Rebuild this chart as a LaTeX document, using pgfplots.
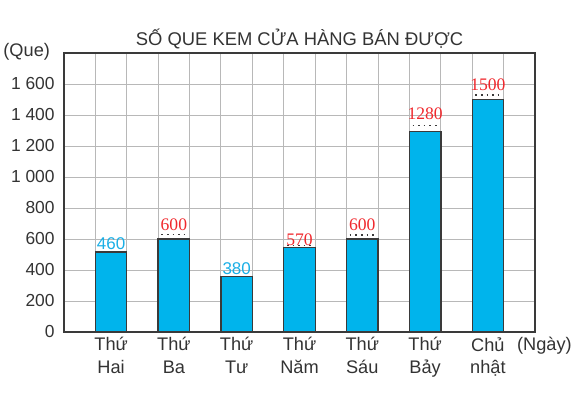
\documentclass[border=0pt]{standalone}
\usepackage{pgfplots}
\pgfplotsset{compat=1.18}
\usepackage{fontspec}
\setmainfont{Liberation Sans}
\newfontfamily\redfont{Liberation Serif}
\definecolor{barc}{HTML}{00B4EC}
\definecolor{edgec}{HTML}{3A3A3A}
\definecolor{txt}{HTML}{333333}
\definecolor{lblblue}{HTML}{1AAFE6}
\definecolor{lblred}{HTML}{F0282D}
\definecolor{gridc}{HTML}{B8B8B8}
\begin{document}
\begin{tikzpicture}
\useasboundingbox (0,0) rectangle (292pt,196pt);
\begin{axis}[
  at={(32pt,30pt)}, anchor=south west,
  scale only axis, width=235.5pt, height=139.5pt,
  xmin=0, xmax=15, ymin=0, ymax=1800,
  axis line style={edgec, line width=1pt},
  xtick={1.5,3.5,5.5,7.5,9.5,11.5,13.5},
  xticklabels={{Thứ\\Hai},{Thứ\\Ba},{Thứ\\Tư},{Thứ\\Năm},{Thứ\\Sáu},{Thứ\\Bảy},{Chủ\\nhật}},
  xticklabel style={align=center, font=\fontsize{9.1}{11.2}\selectfont, text=txt, anchor=north, inner sep=0pt, yshift=-2.5pt},
  minor xtick={1,2,...,14},
  xminorgrids=true, xmajorgrids=false,
  ytick={0,200,...,1600},
  ymajorgrids=true,
  grid style={gridc, line width=0.5pt},
  minor grid style={gridc, line width=0.5pt},
  major tick length=0pt, minor tick length=0pt,
  yticklabel style={font=\fontsize{8.7}{10}\selectfont, text=txt, anchor=east, inner sep=0pt, xshift=-4.5pt},
  /pgf/number format/1000 sep={\ },
  /pgf/number format/assume math mode=true,
  title={SỐ QUE KEM CỬA HÀNG BÁN ĐƯỢC},
  every axis title/.style={at={(rel axis cs:0.5,1)}, anchor=base, yshift=4pt, font=\fontsize{9.2}{10}\selectfont, text=txt},
  xlabel={(Ngày)},
  every axis x label/.style={at={(rel axis cs:1.02,0)}, anchor=base, yshift=-9pt, font=\fontsize{9.1}{11}\selectfont, text=txt},
  ylabel={(Que)},
  every axis y label/.style={at={(rel axis cs:0,1)}, anchor=base east, xshift=-3.5pt, yshift=-1.5pt, font=\fontsize{9.1}{11}\selectfont, text=txt},
  clip=false,
]
\addplot[ybar, bar width=1, bar shift=0pt, fill=barc, draw=edgec, line width=0.7pt]
  coordinates {(1.5,515) (3.5,600) (5.5,357) (7.5,544) (9.5,600) (11.5,1295) (13.5,1500)};
% dotted marks above bars
\addplot[dotted, edgec, line width=0.8pt] coordinates {(3.1,630) (3.9,630)};
\addplot[dotted, edgec, line width=0.8pt] coordinates {(7.1,558) (7.9,558)};
\addplot[dotted, edgec, line width=0.8pt] coordinates {(9.1,625) (9.9,625)};
\addplot[dotted, edgec, line width=0.8pt] coordinates {(11.1,1331) (11.9,1331)};
\addplot[dotted, edgec, line width=0.8pt] coordinates {(13.1,1529) (13.9,1529)};
% blue labels
\addplot[draw=none, mark=none, nodes near coords, point meta=explicit symbolic,
  nodes near coords style={anchor=base, inner sep=0pt, text=lblblue, font=\fontsize{8.5}{10}\selectfont}]
  coordinates {(1.5,535)[460] (5.5,368)[380]};
% red labels
\addplot[draw=none, mark=none, nodes near coords, point meta=explicit symbolic,
  nodes near coords style={anchor=base, inner sep=0pt, text=lblred, font=\redfont\fontsize{8.8}{10}\selectfont}]
  coordinates {(3.5,654)[600] (7.5,561)[570] (9.5,654)[600] (11.5,1368)[1280] (13.5,1561)[1500]};
\end{axis}
\end{tikzpicture}
\end{document}
